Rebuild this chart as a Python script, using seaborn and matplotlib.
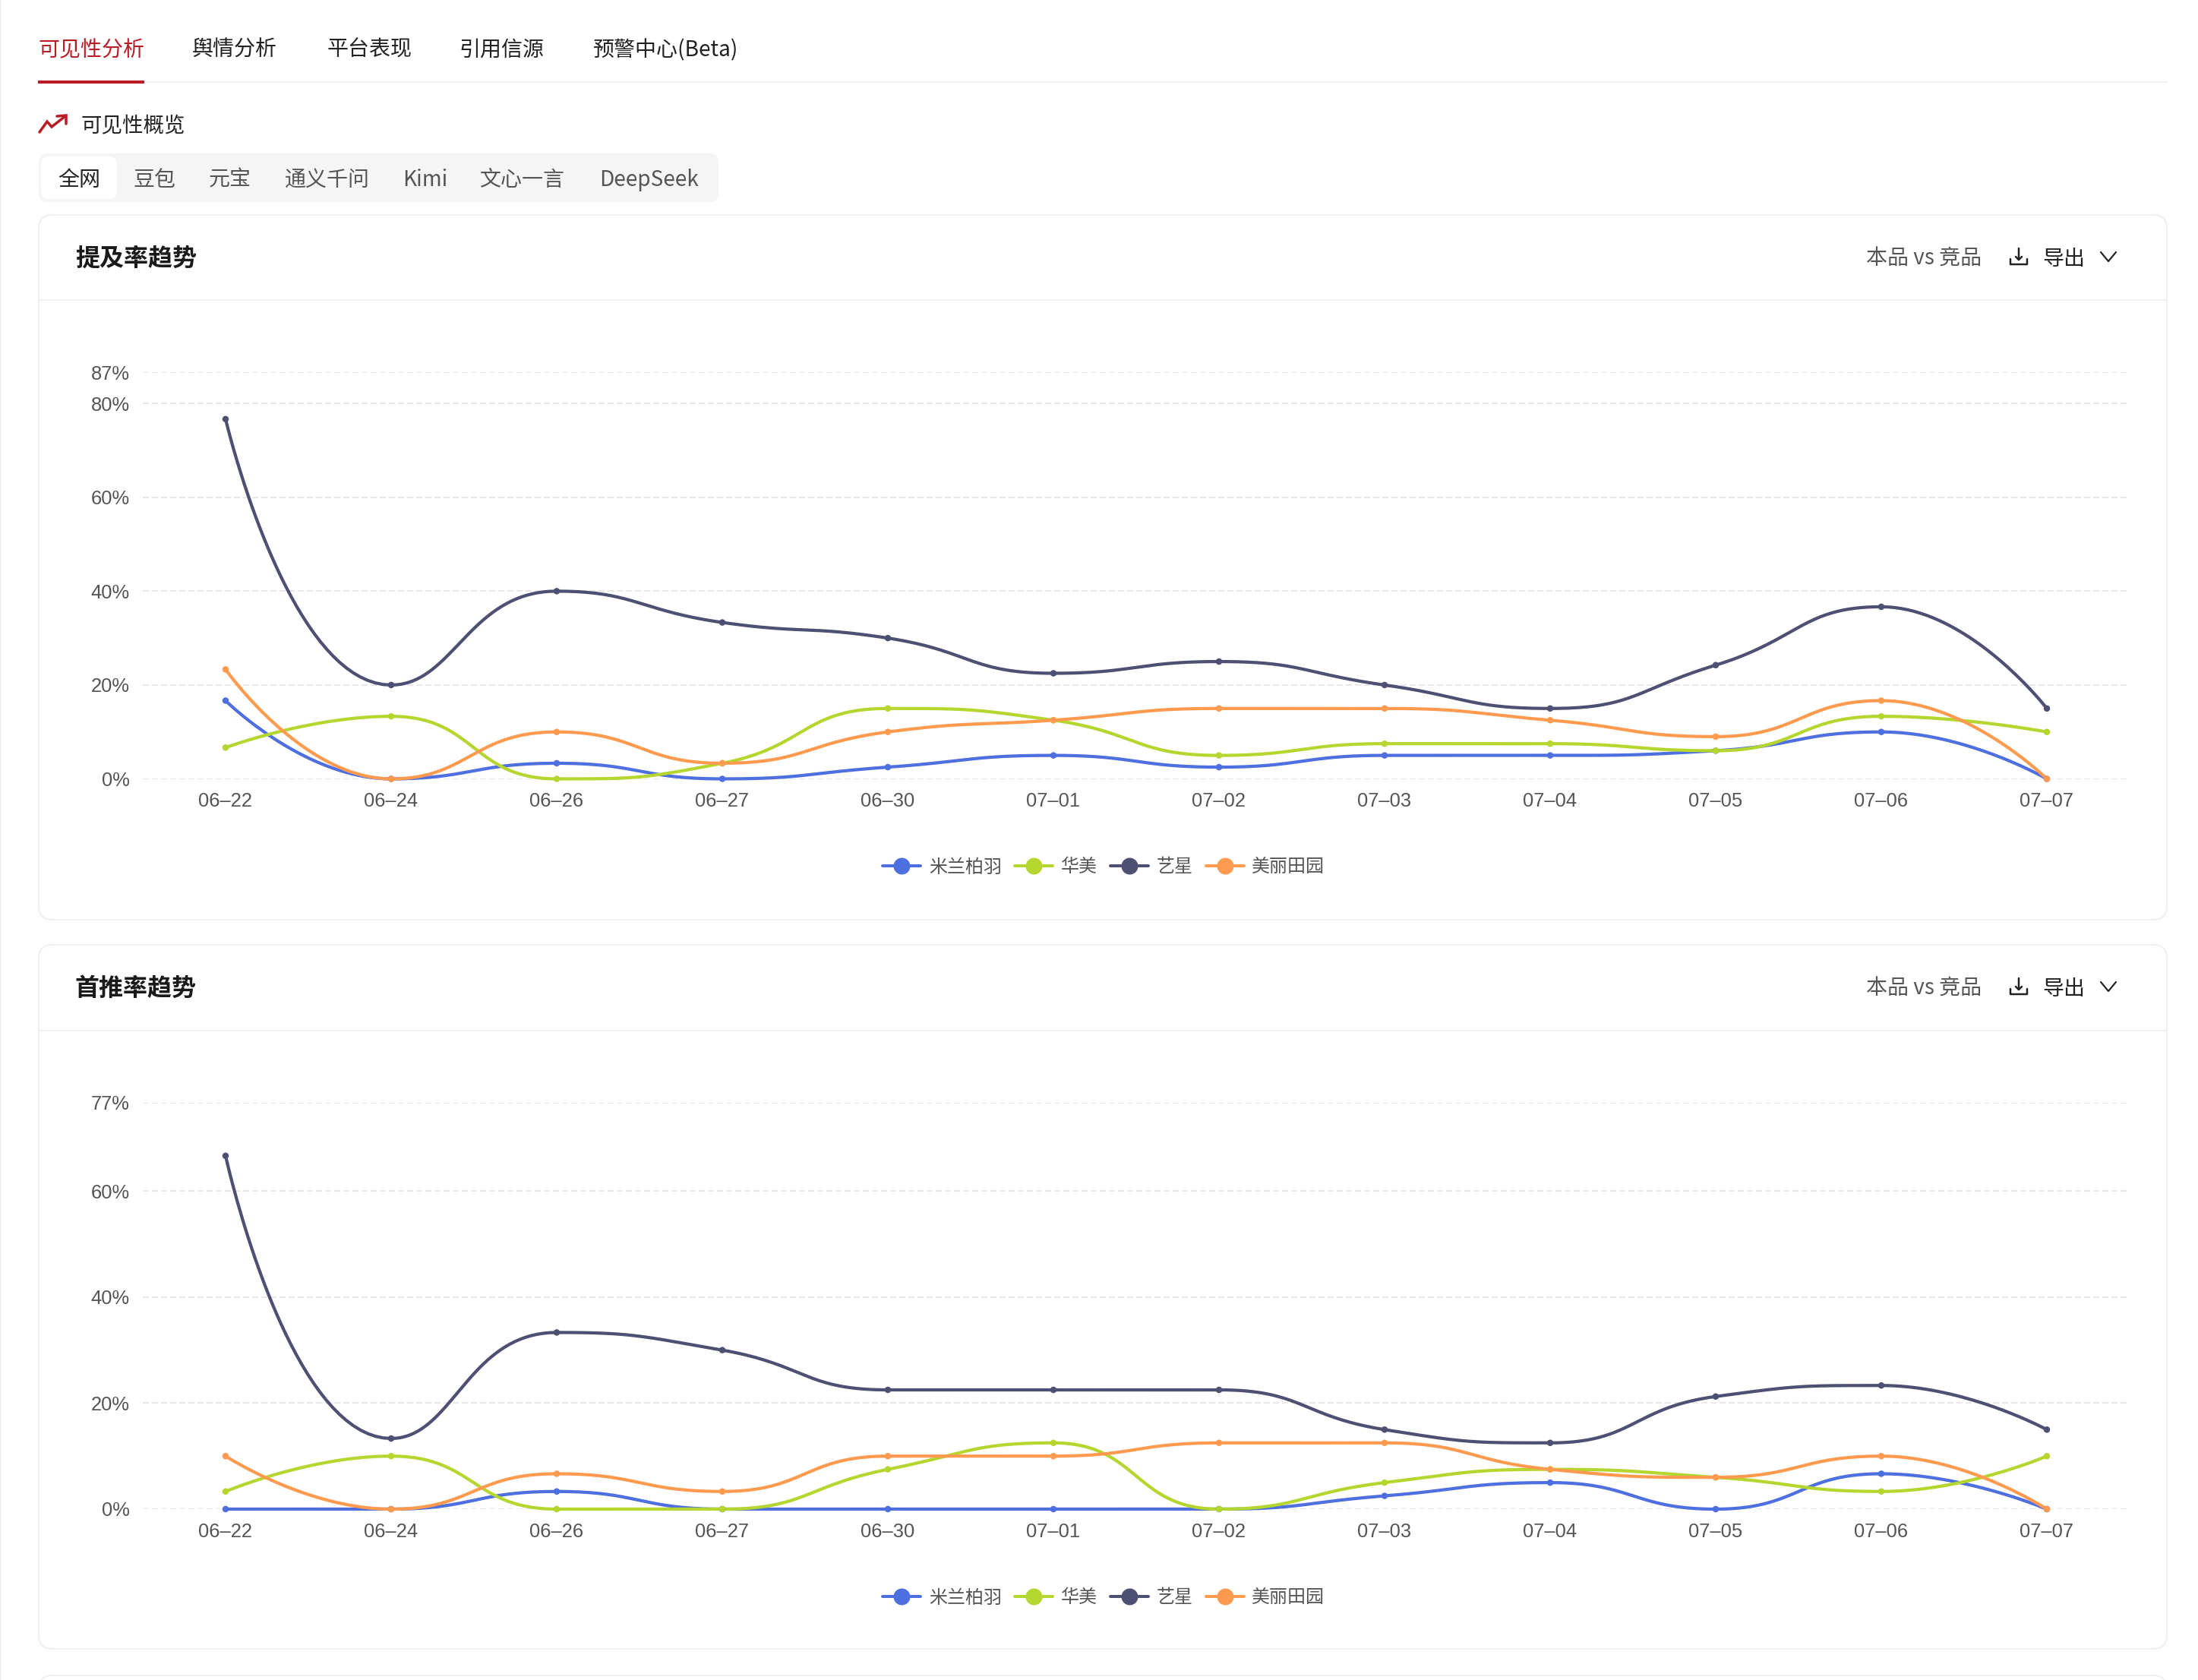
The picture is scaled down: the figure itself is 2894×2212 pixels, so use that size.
import numpy as np
import pandas as pd
import seaborn as sns
import matplotlib.pyplot as plt
from matplotlib.lines import Line2D
from matplotlib.patches import FancyBboxPatch, Rectangle

dates = ["06–22", "06–24", "06–26", "06–27", "06–30", "07–01", "07–02", "07–03", "07–04", "07–05", "07–06", "07–07"]
brands = ["米兰柏羽", "华美", "艺星", "美丽田园"]
colors = ["#4E6FDF", "#B5D62F", "#4D5073", "#FF9A4F"]

# 提及率趋势
mention_milan = [16.67, 0, 3.33, 0, 2.5, 5, 2.5, 5, 5, 6, 10, 0]
mention_huamei = [6.67, 13.33, 0, 3.33, 15, 12.5, 5, 7.5, 7.5, 6, 13.33, 10]
mention_yixing = [76.67, 20, 40, 33.33, 30, 22.5, 25, 20, 15, 24.24, 36.67, 15]
mention_meili = [23.33, 0, 10, 3.33, 10, 12.5, 15, 15, 12.5, 9, 16.67, 0]
mention_ticks = [0, 20, 40, 60, 80, 86.67]
mention_labels = ["0%", "20%", "40%", "60%", "80%", "87%"]

# 首推率趋势
first_milan = [0, 0, 3.33, 0, 0, 0, 0, 2.5, 5, 0, 6.67, 0]
first_huamei = [3.33, 10, 0, 0, 7.5, 12.5, 0, 5, 7.5, 6, 3.33, 10]
first_yixing = [66.67, 13.33, 33.33, 30, 22.5, 22.5, 22.5, 15, 12.5, 21.25, 23.33, 15]
first_meili = [10, 0, 6.67, 3.33, 10, 10, 12.5, 12.5, 7.5, 6, 10, 0]
first_ticks = [0, 20, 40, 60, 76.67]
first_labels = ["0%", "20%", "40%", "60%", "77%"]

tabs = ["可见性分析", "舆情分析", "平台表现", "引用信源", "预警中心(Beta)"]
platforms = ["全网", "豆包", "元宝", "通义千问", "Kimi", "文心一言", "DeepSeek"]

W, H = 2894, 2212
sns.set_theme(style="white")
plt.rcParams["font.family"] = ["Noto Sans CJK SC", "DejaVu Sans"]
px = 0.72  # px to pt at dpi 100


def smooth_curve(xs, ys, smooth=0.5, n=40):
    # bezier smoothing in screen space, like the echarts line
    out = []
    cp0 = (xs[0], ys[0])
    for i in range(1, len(xs)):
        x, y = xs[i], ys[i]
        px0, py0 = xs[i - 1], ys[i - 1]
        if i == len(xs) - 1:
            cp1 = (x, y)
            nxt = (x, y)
        else:
            nx, ny = xs[i + 1], ys[i + 1]
            len_prev = np.hypot(x - px0, y - py0)
            len_next = np.hypot(nx - x, ny - y)
            ratio = len_next / (len_next + len_prev)
            cx = x + (nx - px0) * smooth * ratio
            cy = y + (ny - py0) * smooth * ratio
            cx = max(min(cx, max(nx, x)), min(nx, x))
            cy = max(min(cy, max(ny, y)), min(ny, y))
            c1x = x - (cx - x) * len_prev / len_next
            c1y = y - (cy - y) * len_prev / len_next
            c1x = max(min(c1x, max(px0, x)), min(px0, x))
            c1y = max(min(c1y, max(py0, y)), min(py0, y))
            cp1 = (c1x, c1y)
            nxt = (x + (x - c1x) * len_next / len_prev, y + (y - c1y) * len_next / len_prev)
        t = np.linspace(0, 1, n)[:, None]
        a, b, c, d = map(np.array, [(px0, py0), cp0, cp1, (x, y)])
        out.append((1 - t) ** 3 * a + 3 * (1 - t) ** 2 * t * b + 3 * (1 - t) * t ** 2 * c + t ** 3 * d)
        cp0 = nxt
    return np.vstack(out)


def trend_panel(fig, top, bottom, series, ticks, labels):
    ax = fig.add_axes([188 / W, 1 - bottom / H, (2804 - 188) / W, (bottom - top) / H])
    ax.patch.set_alpha(0)
    ax.set_xlim(-0.5, 11.5)
    ax.set_ylim(0, ticks[-1])
    pos = np.arange(len(dates))
    frames, points = [], []
    for name, vals in zip(brands, series):
        scr = ax.transData.transform(np.column_stack([pos, vals]))
        crv = ax.transData.inverted().transform(smooth_curve(scr[:, 0], scr[:, 1]))
        frames.append(pd.DataFrame({"x": crv[:, 0], "y": crv[:, 1], "brand": name}))
        points.append(pd.DataFrame({"x": pos, "y": vals, "brand": name}))
    sns.lineplot(data=pd.concat(frames), x="x", y="y", hue="brand", hue_order=brands, palette=colors,
                 sort=False, estimator=None, errorbar=None, linewidth=4.2 * px, legend=False, ax=ax, clip_on=False)
    sns.scatterplot(data=pd.concat(points), x="x", y="y", hue="brand", hue_order=brands, palette=colors,
                    s=(8.5 * px) ** 2, linewidth=0, legend=False, ax=ax, clip_on=False, zorder=5)
    ax.set_xticks(pos, dates)
    ax.set_yticks(ticks, labels)
    ax.set_xlabel("")
    ax.set_ylabel("")
    ax.tick_params(axis="both", length=0, labelcolor="#555555", labelsize=25.5 * px)
    ax.tick_params(axis="x", pad=18 * px)
    ax.tick_params(axis="y", pad=17 * px)
    for lb in ax.get_xticklabels() + ax.get_yticklabels():
        lb.set_fontfamily("Liberation Sans")
    ax.grid(axis="y", color="#E8E8E8", linewidth=2 * px, linestyle=(0, (4, 2)))
    ax.set_axisbelow(True)
    sns.despine(ax=ax, left=True, bottom=True)
    return ax


fig = plt.figure(figsize=(W / 100, H / 100), dpi=100, facecolor="white")
bg = fig.add_axes([0, 0, 1, 1], zorder=-1)
bg.set_xlim(0, W)
bg.set_ylim(H, 0)
bg.axis("off")


def label(x, y, s, size, color="#222222", ha="left", weight="normal"):
    bg.text(x, y + 3, s, fontsize=size * px, color=color, ha=ha, va="center", fontweight=weight)


def rbox(x0, y0, x1, y1, r, face, edge="none"):
    bg.add_patch(FancyBboxPatch((x0, y0), x1 - x0, y1 - y0, boxstyle=f"round,pad=0,rounding_size={r}",
                                facecolor=face, edgecolor=edge, linewidth=2 * px))


# top tabs
bg.add_patch(Rectangle((0, 0), 2, H, color="#F0F0F0", lw=0))
bg.plot([50, 2853], [108, 108], color="#F0F0F0", lw=2 * px)
bg.add_patch(Rectangle((50, 106), 140, 4, color="#B91C24", lw=0, zorder=3))
tab_x = [50, 253, 430, 605, 781]
for i, (t, x) in enumerate(zip(tabs, tab_x)):
    label(x, 63, t, 28, color="#B91C24" if i == 0 else "#222222")

# section title with arrow icon
bg.plot([52, 62, 68, 86], [174, 160, 167, 153], color="#B91C24", lw=3.5 * px, solid_joinstyle="miter")
bg.plot([75, 87, 87], [153, 152, 163], color="#B91C24", lw=3.5 * px, solid_joinstyle="miter")
label(106, 163, "可见性概览", 27.5)

# platform pills
rbox(51, 202, 946, 266, 12, "#F5F5F5")
rbox(54, 206, 154, 262, 10, "white")
plat_x = [104, 203, 303, 431, 560, 687, 854]
for i, (t, x) in enumerate(zip(platforms, plat_x)):
    label(x, 234, t, 28, color="#222222" if i == 0 else "#555555", ha="center")

# cards
rbox(51, 283, 2853, 1211, 18, "white", "#F0F0F0")
rbox(51, 1244, 2853, 2171, 18, "white", "#F0F0F0")
rbox(51, 2206, 2853, 2300, 18, "white", "#F0F0F0")
bg.set_xlim(0, W)
bg.set_ylim(H, 0)

for y_title, y_rule, y_leg, title in [(338, 395, 1140, "提及率趋势"), (1299, 1357, 2102, "首推率趋势")]:
    bg.plot([51, 2853], [y_rule, y_rule], color="#F0F0F0", lw=2 * px)
    label(99, y_title, title, 32, color="#1A1A1A", weight="bold")
    label(2457, y_title, "本品 vs 竞品", 28, color="#555555")
    label(2689, y_title, "导出", 28)
    # download icon
    y = y_title
    bg.plot([2647, 2647, 2669, 2669], [y + 3, y + 10, y + 10, y + 3], color="#222222", lw=2.5 * px)
    bg.plot([2658, 2658], [y - 11, y + 4], color="#222222", lw=2.5 * px)
    bg.plot([2654, 2658, 2662], [y, y + 4, y], color="#222222", lw=2.5 * px)
    # chevron
    bg.plot([2766, 2776, 2786], [y - 6, y + 6, y - 6], color="#222222", lw=2.2 * px)
    # legend
    for x0, name, c, tx in zip([1162, 1336, 1462, 1588], brands, colors, [1223, 1397, 1523, 1648]):
        bg.add_line(Line2D([x0, x0 + 50], [y_leg, y_leg], color=c, lw=4 * px))
        bg.add_line(Line2D([x0 + 25], [y_leg], color=c, marker="o", ms=22 * px, mew=0, ls="none"))
        label(tx, y_leg - 1, name, 24, color="#555555")

trend_panel(fig, 490, 1025.5, [mention_milan, mention_huamei, mention_yixing, mention_meili], mention_ticks, mention_labels)
trend_panel(fig, 1452, 1987, [first_milan, first_huamei, first_yixing, first_meili], first_ticks, first_labels)

fig.savefig("out.png", dpi=100)
